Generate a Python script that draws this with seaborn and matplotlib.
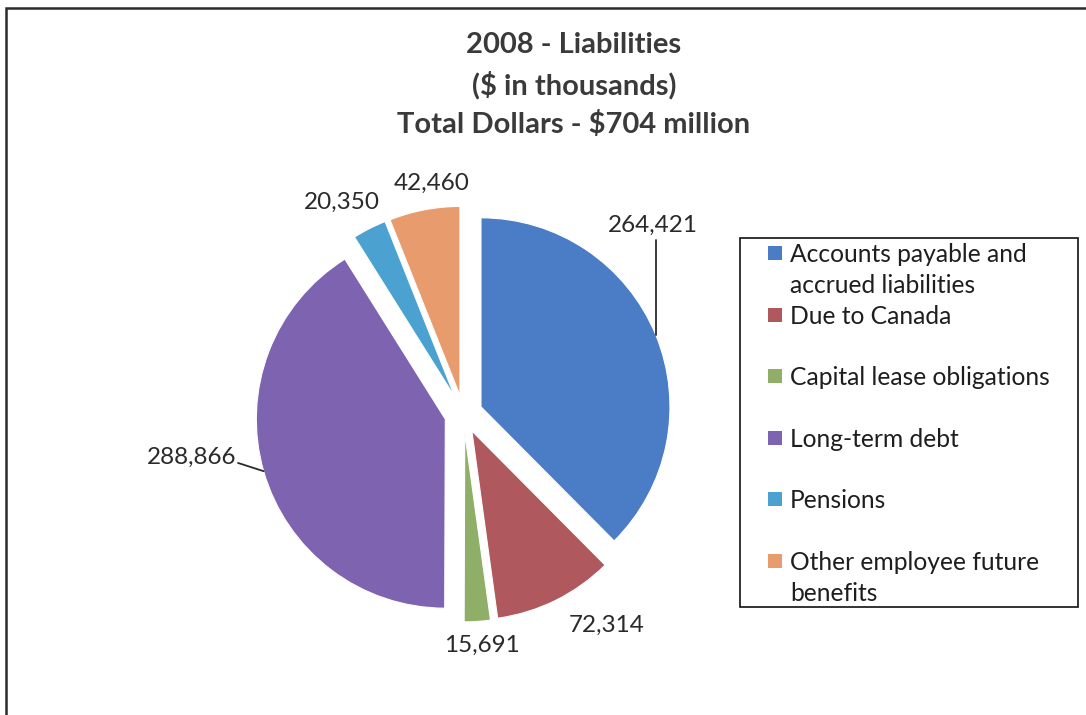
import numpy as np
import matplotlib
matplotlib.use("Agg")
import matplotlib.pyplot as plt
import seaborn as sns
from matplotlib.patches import Rectangle

# ---- data ($ in thousands) ----
categories = [
    "Accounts payable and\naccrued liabilities",
    "Due to Canada",
    "Capital lease obligations",
    "Long-term debt",
    "Pensions",
    "Other employee future\nbenefits",
]
values = [264421, 72314, 15691, 288866, 20350, 42460]
title_lines = ["2008 - Liabilities", "($ in thousands)", "Total Dollars - $704 million"]

colors = ["#4A7DC6", "#AF585D", "#8FAE68", "#7E63B0", "#4BA2D0", "#E89B6C"]

sns.set_theme(style="white")
plt.rcParams["font.family"] = ["Lato", "DejaVu Sans"]

W, H = 1086, 715
fig = plt.figure(figsize=(W / 100, H / 100), dpi=100)
fig.patch.set_facecolor("white")


def fx(px):
    return px / W


def fy(py):
    return 1 - py / H


# outer chart frame (extends past right and bottom edges)
fig.add_artist(Rectangle((fx(6), -0.2), 1.3, fy(8) + 0.2, transform=fig.transFigure,
                         fill=False, edgecolor="#2b2b2b", linewidth=1.8, clip_on=False))

# title
for i, line in enumerate(title_lines):
    fig.text(fx(574), fy(45 + 40 * i), line, ha="center", va="center",
             fontsize=21, fontweight="bold", color="#3a3a3a")

# pie
cx, cy, R = 463.5, 414, 189
half = 260
ax = fig.add_axes([fx(cx - half), fy(cy + half), 2 * half / W, 2 * half / H])
wedges, _ = ax.pie(values, colors=colors, startangle=90, counterclock=False,
                   explode=[0.1] * len(values), radius=1,
                   wedgeprops=dict(edgecolor="white", linewidth=0.8))
lim = half / R
ax.set_xlim(-lim, lim)
ax.set_ylim(-lim, lim)
ax.set_aspect("equal")
ax.axis("off")

# value labels (data coordinates, pie radius = 1)
label_xy = [(1.003, 1.0), (0.759, -1.116), (0.095, -1.222),
            (-1.439, -0.228), (-0.646, 1.122), (-0.169, 1.222)]
for v, (lx, ly) in zip(values, label_xy):
    ax.text(lx, ly, f"{v:,}", ha="center", va="center", fontsize=17.5, color="#2a2a2a")


def edge_point(w):
    mid = np.deg2rad((w.theta1 + w.theta2) / 2)
    c = np.asarray(w.center)
    return c + w.r * np.array([np.cos(mid), np.sin(mid)])


# leader lines for the two largest slices
ex, ey = edge_point(wedges[0])
ax.plot([ex, ex], [0.921, ey], color="#2a2a2a", lw=1.3, clip_on=False)
px_, py_ = edge_point(wedges[3])
ax.plot([-1.193, px_], [-0.259, py_], color="#2a2a2a", lw=1.3, clip_on=False)

# legend
fig.add_artist(Rectangle((fx(740), fy(607)), fx(1078) - fx(740), fy(238) - fy(607),
                         transform=fig.transFigure, fill=False, edgecolor="#111111",
                         linewidth=1.2))
for i, (name, w) in enumerate(zip(categories, wedges)):
    yc = 253 + 61.6 * i
    fig.add_artist(Rectangle((fx(768), fy(yc + 7)), 14 / W, 14 / H, transform=fig.transFigure,
                             facecolor=w.get_facecolor(), edgecolor="none"))
    for k, part in enumerate(name.split("\n")):
        fig.text(fx(790), fy(yc + 9 + 31 * k), part, ha="left", va="baseline",
                 fontsize=17.7, color="#1e1e1e")

fig.savefig("out.png", dpi=100)
